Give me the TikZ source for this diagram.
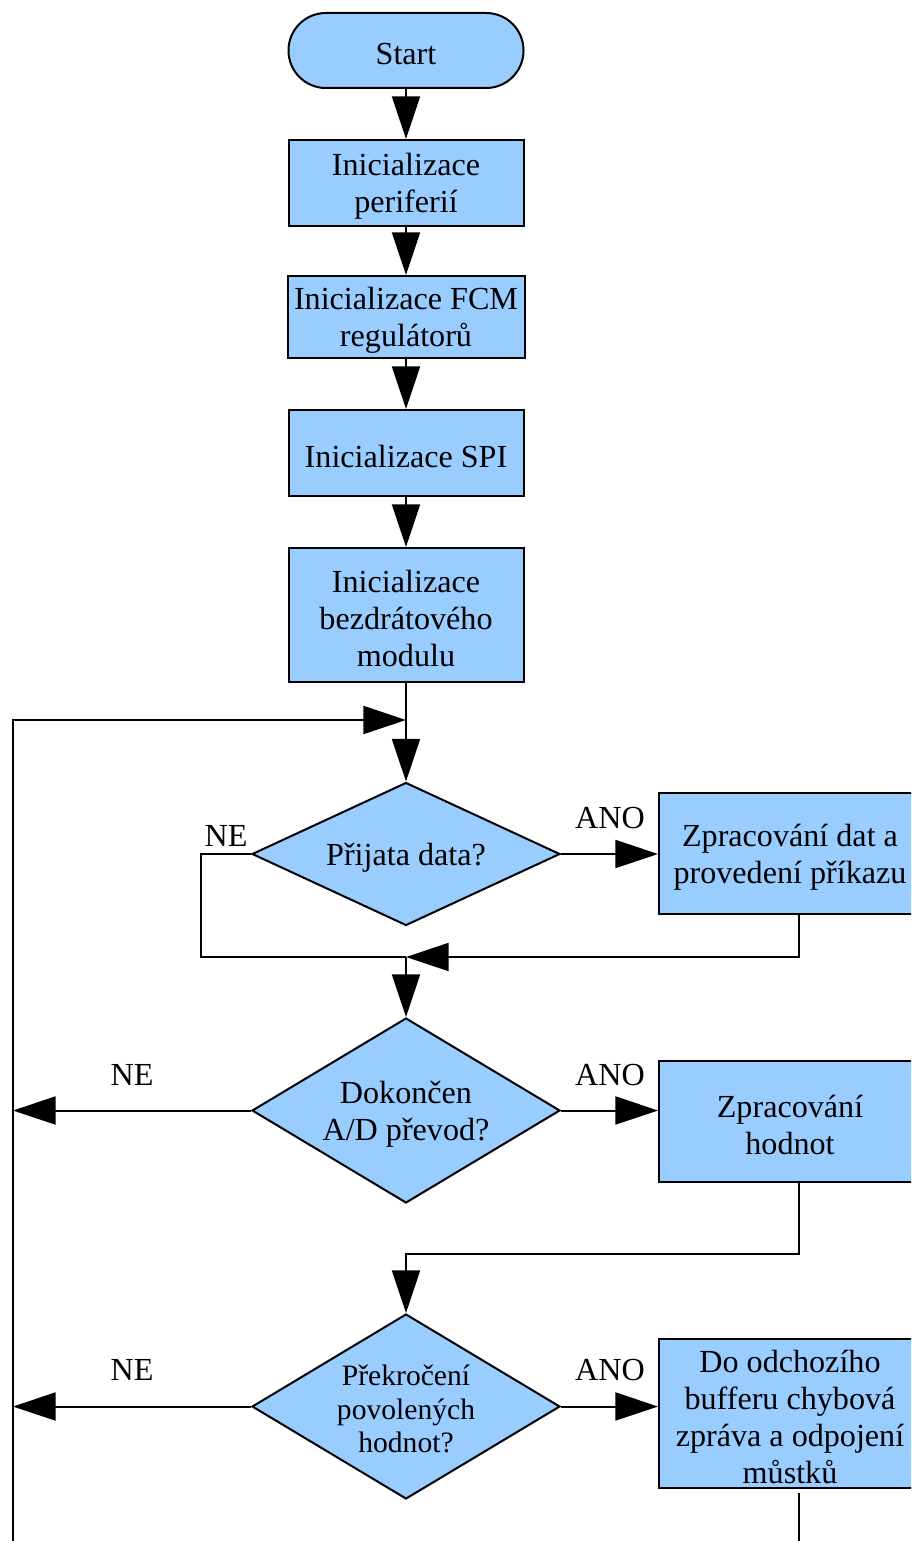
\documentclass[tikz,border=0pt]{standalone}
\usepackage{fontspec}
\setmainfont{Liberation Serif}
\usetikzlibrary{arrows.meta,shapes.geometric}
\definecolor{boxfill}{RGB}{153,204,255}
\begin{document}
\begin{tikzpicture}[x=0.75pt,y=-0.75pt,
  every node/.style={font=\fontsize{24.1pt}{27.75pt}\selectfont, text=black},
  inside/.style={label={[align=center, yshift=-2.5pt]center:#1}},
  proc/.style={draw, line width=1.5pt, fill=boxfill, inner sep=0pt},
  term/.style={proc, rounded corners=28pt},
  decision/.style={diamond, draw, line width=1.5pt, fill=boxfill, inner sep=0pt, minimum width=231pt},
  small/.style={font=\fontsize{22.2pt}{25.1pt}\selectfont},
  flow/.style={line width=1.5pt},
  arr/.style={flow, -{Triangle[length=32pt,width=21pt]}}
]
\useasboundingbox (0,0) rectangle (911,1541);
\clip (0,0) rectangle (911,1541);

% main column
\node[term, minimum width=176.25pt, minimum height=56.25pt, inside={Start}] (start) at (406,50.5) {};
\node[proc, minimum width=176.25pt, minimum height=64.5pt, inside={Inicializace\\periferií}] (init1) at (406,183) {};
\node[proc, minimum width=177.75pt, minimum height=61.5pt, inside={Inicializace FCM\\regulátorů}] (init2) at (406,317) {};
\node[proc, minimum width=176.25pt, minimum height=64.5pt, inside={Inicializace SPI}] (init3) at (406,453) {};
\node[proc, minimum width=176.25pt, minimum height=100.5pt, inside={Inicializace\\bezdrátového\\modulu}] (init4) at (406,615) {};

% decisions
\node[decision, minimum height=107.25pt, inside={Přijata data?}] (q1) at (406,854) {};
\node[decision, minimum height=138.75pt, inside={Dokončen\\A/D převod?}] (q2) at (406,1110.5) {};
\node[decision, minimum height=138.75pt,
  label={[align=center, yshift=-2pt, small]center:Překročení\\povolených\\hodnot?}] (q3) at (406,1406.5) {};

% right column
\node[proc, minimum width=196.5pt, minimum height=90.75pt, inside={Zpracování dat a\\provedení příkazu}] (work1) at (790,853.5) {};
\node[proc, minimum width=196.5pt, minimum height=90.75pt, inside={Zpracování\\hodnot}] (work2) at (790,1121.5) {};
\node[proc, minimum width=196.5pt, minimum height=111.75pt, inside={Do odchozího\\bufferu chybová\\zpráva a odpojení\\můstků}] (work3) at (790,1413.5) {};

% branch labels
\node (ne1) at (226,836) {NE};
\node (ano1) at (610,818) {ANO};
\node (ne2) at (132,1075) {NE};
\node (ano2) at (610,1075) {ANO};
\node (ne3) at (132,1370) {NE};
\node (ano3) at (610,1370) {ANO};

% routing points
\coordinate (loopTop) at (13,720);
\coordinate (loopBot) at (13,1545);
\coordinate (join0) at (406,720);
\coordinate (neBend1) at (201,854);
\coordinate (neBend2) at (201,957);
\coordinate (join1) at (406,957);
\coordinate (drop1) at (799,957);
\coordinate (drop2) at (799,1254);
\coordinate (join2) at (406,1254);
\coordinate (exit) at (799,1545);

% connectors
\draw[arr] (start) -- (init1);
\draw[arr] (init1) -- (init2);
\draw[arr] (init2) -- (init3);
\draw[arr] (init3) -- (init4);
\draw[arr] (init4) -- (q1);
\draw[arr] (loopBot) -- (loopTop) -- (join0);
\draw[arr] (q1.east) -- (q1.east -| work1.west);
\draw[flow] (q1.west) -- (neBend1) -- (neBend2) -- (join1);
\draw[arr] (work1.south -| drop1) -- (drop1) -- (join1);
\draw[arr] (join1) -- (q2.north);
\draw[arr] (q2.west) -- (q2.west -| loopTop);
\draw[arr] (q2.east) -- (q2.east -| work2.west);
\draw[arr] (work2.south -| drop2) -- (drop2) -- (join2) -- (q3.north);
\draw[arr] (q3.west) -- (q3.west -| loopTop);
\draw[arr] (q3.east) -- (q3.east -| work3.west);
\draw[flow, shorten <=3pt] (work3.south -| exit) -- (exit);
\end{tikzpicture}
\end{document}
